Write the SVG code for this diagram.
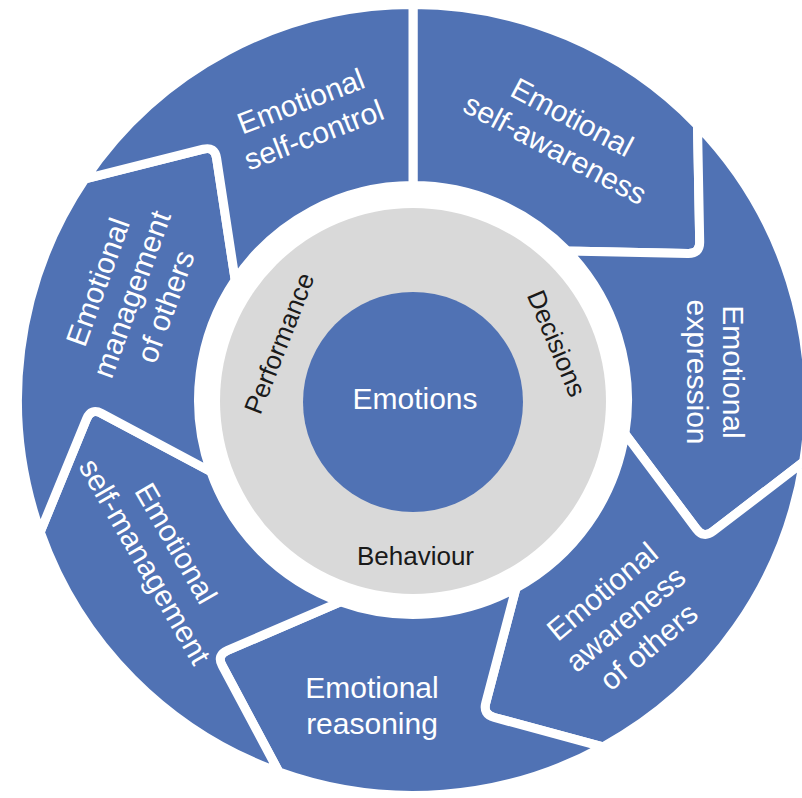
<svg xmlns="http://www.w3.org/2000/svg" width="802" height="798" viewBox="0 0 802 798">
<style>
.seg{fill:#5072B4;stroke:#ffffff;stroke-width:9;stroke-linejoin:round}
.lbl{font-family:"Liberation Sans",Arial,sans-serif;font-size:30px;fill:#ffffff;text-anchor:middle}
.hub{font-family:"Liberation Sans",Arial,sans-serif;font-size:26px;fill:#1a1a1a;text-anchor:middle}
</style>
<rect x="0" y="0" width="802" height="798" fill="#ffffff"/>
<g id="connectors"></g>
<g id="seg-self-awareness">
<path class="seg" d="M413,4.5 A395.5,395.5 0 0 1 697.5,125.3 L699.7,241.8 Q699.9,253.8 687.9,253.5 L567.3,251 A214.5,214.5 0 0 0 413,185.5 Z"/>
<text class="lbl" transform="translate(564,132.6) rotate(28)"><tspan x="0" y="-7">Emotional</tspan><tspan x="0" y="29">self-awareness</tspan></text>
</g>
<g id="seg-expression">
<path class="seg" d="M697.5,125.3 A395.5,395.5 0 0 1 803.6,461.9 L713.1,531.3 Q703.6,538.6 696.4,529 L624.9,433.6 A214.5,214.5 0 0 0 567.3,251 L687.9,253.5 Q699.9,253.8 699.7,241.8 Z"/>
<text class="lbl" transform="translate(716,372) rotate(90)"><tspan x="0" y="-7">Emotional</tspan><tspan x="0" y="29">expression</tspan></text>
</g>
<g id="seg-awareness-of-others">
<path class="seg" d="M803.6,461.9 A395.5,395.5 0 0 1 602.9,746.9 L494.3,717.5 Q482.7,714.4 485.8,702.8 L516,588.1 A214.5,214.5 0 0 0 624.9,433.6 L696.4,529 Q703.6,538.6 713.1,531.3 Z"/>
<text class="lbl" transform="translate(625,618.5) rotate(-40)"><tspan x="0" y="-25">Emotional</tspan><tspan x="0" y="11">awareness</tspan><tspan x="0" y="47">of others</tspan></text>
</g>
<g id="seg-reasoning">
<path class="seg" d="M602.9,746.9 A395.5,395.5 0 0 1 279,772.1 L222.2,665.7 Q216.5,655.1 227.5,650.4 L340.3,601.8 A214.5,214.5 0 0 0 516,588.1 L485.8,702.8 Q482.7,714.4 494.3,717.5 Z"/>
<text class="lbl" transform="translate(372,705)"><tspan x="0" y="-7">Emotional</tspan><tspan x="0" y="29">reasoning</tspan></text>
</g>
<g id="seg-self-management">
<path class="seg" d="M279,772.1 A395.5,395.5 0 0 1 40.2,532 L86.5,419 Q91.1,407.9 101.7,413.5 L210.8,471.6 A214.5,214.5 0 0 0 340.3,601.8 L227.5,650.4 Q216.5,655.1 222.2,665.7 Z"/>
<text class="lbl" transform="translate(161,552) rotate(60)"><tspan x="0" y="-7">Emotional</tspan><tspan x="0" y="29">self-management</tspan></text>
</g>
<g id="seg-management-of-others">
<path class="seg" d="M40.2,532 A395.5,395.5 0 0 1 85.1,178.8 L203.2,149.2 Q214.8,146.3 216.6,158.2 L235.2,280.1 A214.5,214.5 0 0 0 210.8,471.6 L101.7,413.5 Q91.1,407.9 86.5,419 Z"/>
<text class="lbl" transform="translate(131,294) rotate(-70)"><tspan x="0" y="-25">Emotional</tspan><tspan x="0" y="11">management</tspan><tspan x="0" y="47">of others</tspan></text>
</g>
<g id="seg-self-control">
<path class="seg" d="M85.1,178.8 A395.5,395.5 0 0 1 413,4.5 L413,185.5 A214.5,214.5 0 0 0 235.2,280.1 L216.6,158.2 Q214.8,146.3 203.2,149.2 Z"/>
<text class="lbl" transform="translate(307,117.5) rotate(-21)"><tspan x="0" y="-7">Emotional</tspan><tspan x="0" y="29">self-control</tspan></text>
</g>
<g id="hub-ring">
<circle cx="413" cy="401" r="193" fill="#D9D9D9"/>
<text class="hub" transform="translate(287.6,346.6) rotate(-68.5)" x="0" y="0">Performance</text>
<text class="hub" transform="translate(548.4,346.8) rotate(67)" x="0" y="0">Decisions</text>
<text class="hub" x="415.5" y="565">Behaviour</text>
</g>
<g id="hub-emotions">
<circle cx="413" cy="402" r="110" fill="#5072B4"/>
<text class="lbl" x="415" y="408.5">Emotions</text>
</g>
</svg>
